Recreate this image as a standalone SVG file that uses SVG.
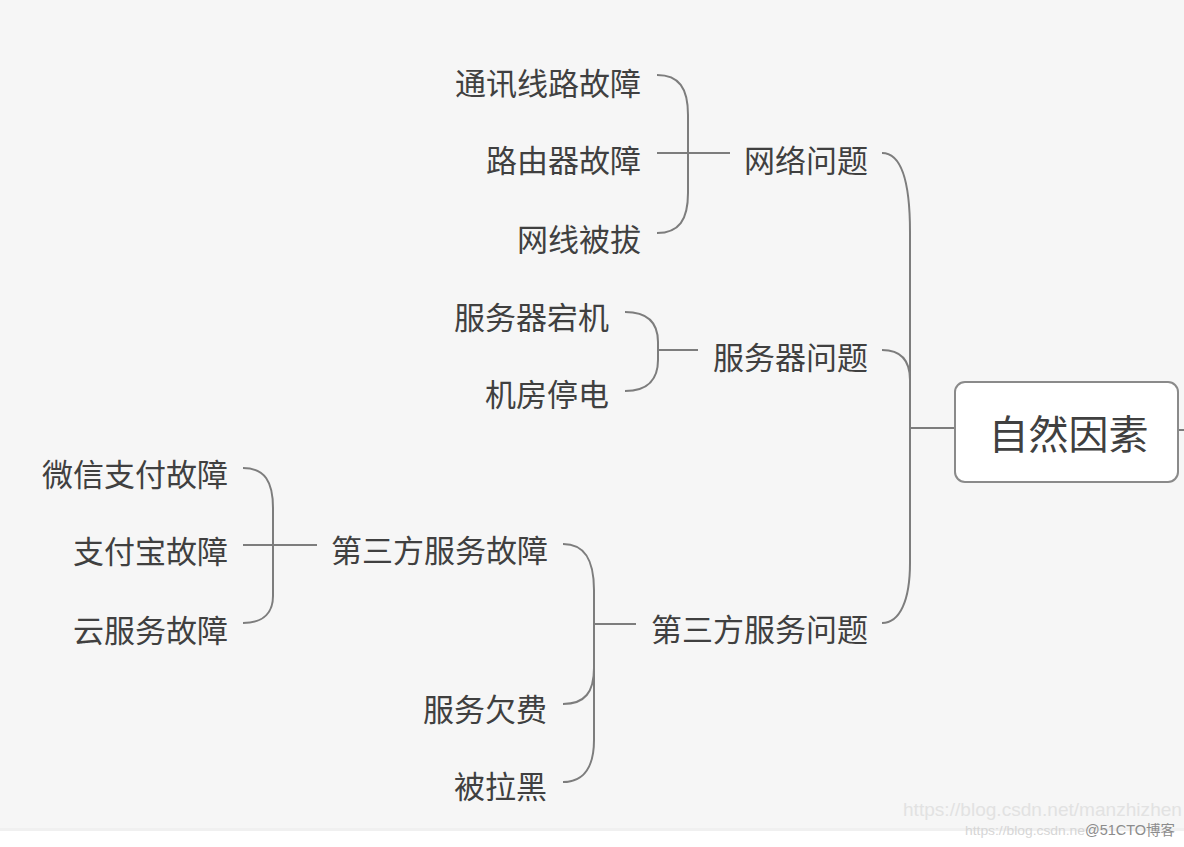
<svg xmlns="http://www.w3.org/2000/svg" width="1184" height="847" viewBox="0 0 1184 847">
<style>
.t{font-family:"Noto Sans CJK SC","Noto Sans",sans-serif;font-size:31px;fill:#404040;text-anchor:end}
.root{font-family:"Noto Sans CJK SC","Noto Sans",sans-serif;font-size:40px;fill:#404040;text-anchor:middle}
.c{fill:none;stroke:#7d7d7d;stroke-width:2}
</style>
<rect x="0" y="0" width="1184" height="847" fill="#ffffff"/>
<rect x="0" y="0" width="1184" height="829" fill="#f6f6f6"/>
<rect x="0" y="828" width="1184" height="3" fill="#f0f0f0"/>
<g id="connectors">
<path class="c" d="M657,75 C679,75 688,88 688,115 L688,193 C688,220 679,233 657,233"/>
<path class="c" d="M657,153 L730,153"/>
<path class="c" d="M625,312 C649,312 658,324 658,342 L658,360 C658,378 649,391 625,391"/>
<path class="c" d="M658,350 L698,350"/>
<path class="c" d="M243,468 C265,468 273,482 273,508 L273,596 C273,611 265,623 243,623"/>
<path class="c" d="M243,545 L317,545"/>
<path class="c" d="M563,544 C585,544 594,560 594,590 L594,740 C594,765 585,782 563,782"/>
<path class="c" d="M563,704 C585,704 594,692 594,668"/>
<path class="c" d="M594,624 L636,624"/>
<path class="c" d="M882,153 C900,153 910,178 910,232 L910,563 C910,600 900,623 882,623"/>
<path class="c" d="M882,350 C900,350 910,360 910,380"/>
<path class="c" d="M910,428 L955,428"/>
<path class="c" d="M1178,430 L1184,430"/>
</g>
<g id="root"><rect x="955" y="382" width="223" height="100" rx="10" fill="#ffffff" stroke="#8a8a8a" stroke-width="2"/><text class="root" x="1068.5" y="449">自然因素</text></g>
<g id="n-network"><text class="t" x="868" y="171.5">网络问题</text></g>
<g id="n-server"><text class="t" x="868" y="368.5">服务器问题</text></g>
<g id="n-third"><text class="t" x="868" y="641">第三方服务问题</text></g>
<g id="n-line"><text class="t" x="641" y="94.5">通讯线路故障</text></g>
<g id="n-router"><text class="t" x="641" y="171.5">路由器故障</text></g>
<g id="n-cable"><text class="t" x="641" y="250.5">网线被拔</text></g>
<g id="n-down"><text class="t" x="609" y="328.5">服务器宕机</text></g>
<g id="n-power"><text class="t" x="609" y="406">机房停电</text></g>
<g id="n-thirdfault"><text class="t" x="548" y="562">第三方服务故障</text></g>
<g id="n-fee"><text class="t" x="547" y="721">服务欠费</text></g>
<g id="n-black"><text class="t" x="547" y="798">被拉黑</text></g>
<g id="n-wechat"><text class="t" x="228" y="486">微信支付故障</text></g>
<g id="n-alipay"><text class="t" x="228" y="563">支付宝故障</text></g>
<g id="n-cloud"><text class="t" x="228" y="642">云服务故障</text></g>
<text x="903" y="816" font-family="Liberation Sans, sans-serif" font-size="19" fill="#e2e2e2" textLength="279" lengthAdjust="spacingAndGlyphs">https://blog.csdn.net/manzhizhen</text>
<text x="965" y="835" font-family="Liberation Sans, sans-serif" font-size="13" fill="#d6d6d6" textLength="120" lengthAdjust="spacingAndGlyphs">https://blog.csdn.ne</text>
<text x="1085" y="835" font-family="Liberation Sans, 'Noto Sans CJK SC', sans-serif" font-size="14" fill="#8c8c8c" textLength="90" lengthAdjust="spacingAndGlyphs">@51CTO博客</text>
</svg>
